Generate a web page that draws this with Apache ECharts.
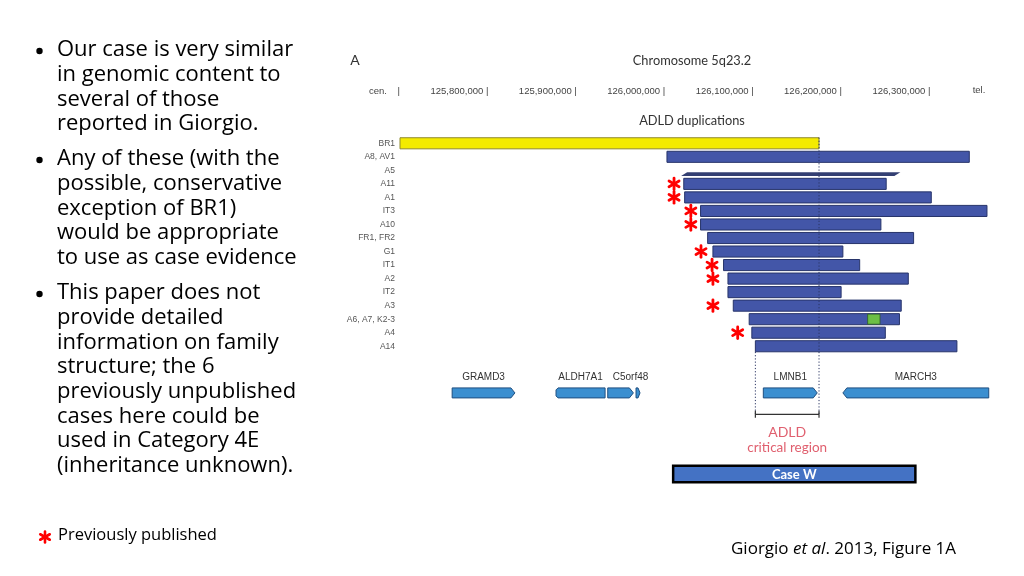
<!DOCTYPE html>
<html><head><meta charset="utf-8">
<script src="https://cdn.jsdelivr.net/npm/echarts@6/dist/echarts.min.js"></script>
<style>html,body{margin:0;padding:0;background:#fff}#c{width:1024px;height:576px}</style>
</head><body><div id="c"></div>
<script>
// ---- data ----
const rowNames = ['BR1','A8, AV1','A5','A11','A1','IT3','A10','FR1, FR2','G1','IT1','A2','IT2','A3','A6, A7, K2-3','A4','A14'];
const dupStart = [125700000,126002000,126018000,126021000,126022000,126040000,126040000,126048000,126054000,126066000,126071000,126071000,126077000,126095000,126098000,126102000];
const dupEnd   = [126174000,126344000,126266000,126250000,126301000,126364000,126244000,126281000,126201000,126220000,126275000,126199000,126267000,126265000,126249000,126330000];
const publishedRows = [3,4,5,6,8,9,10,12,14];
const asteriskPos = [126010000,126010000,126029000,126029000,126040500,126053000,126054000,126054000,126082000];
const greenMark = [126229000,126243000,13];
const tickValues = [125700000,125800000,125900000,126000000,126100000,126200000,126300000];
const tickLabels = ['cen.','125,800,000','125,900,000','126,000,000','126,100,000','126,200,000','126,300,000'];
const geneNames  = ['GRAMD3','ALDH7A1','C5orf48','','LMNB1','MARCH3'];
const geneStart  = [125759000,125876500,125935000,125967000,126111000,126201000];
const geneEnd    = [125830000,125932000,125964000,125971500,126172000,126366000];
const geneStrand = ['+','o','+','+','+','-'];
const criticalRegion = [126102000,126174000];
const caseW = [126009000,126283000];

const bullets = [
  ['Our case is very similar','in genomic content to','several of those','reported in Giorgio.'],
  ['Any of these (with the','possible, conservative','exception of BR1)','would be appropriate','to use as case evidence'],
  ['This paper does not','provide detailed','information on family','structure; the 6','previously unpublished','cases here could be','used in Category 4E','(inheritance unknown).']
];

// ---- layout ----
const SANS = '"Open Sans", Lato, sans-serif';
const FIG = 'Lato, sans-serif';
const NARROW = '"Liberation Sans", Arial, sans-serif';
const GENE_ROW = 18.45, BRACKET_ROW = 20.03, CASEW_ROW = 24.44;

function asteriskShape(cx, cy, r, lw) {
  const kids = [];
  for (let k = 0; k < 3; k++) {
    const a = Math.PI / 2 + k * Math.PI / 3;
    kids.push({type:'line', shape:{x1:cx - r*Math.cos(a), y1:cy - r*Math.sin(a), x2:cx + r*Math.cos(a), y2:cy + r*Math.sin(a)},
      style:{stroke:'#ff0000', lineWidth:lw, lineCap:'round'}});
  }
  return kids;
}

const dupData = rowNames.map((n,i)=>[dupStart[i], dupEnd[i], i]);
const astData = publishedRows.map((r,i)=>[asteriskPos[i], r]);
const geneData = geneNames.map((n,i)=>[geneStart[i], geneEnd[i], i]);

const graphics = [];
const lineStep = 24.65;
const starts = [50, 159, 293];
bullets.forEach((b, bi) => {
  graphics.push({type:'circle', shape:{cx:39.5, cy:starts[bi]+1, r:3.2}, style:{fill:'#000'}});
  b.forEach((t, li) => {
    graphics.push({type:'text', x:57, y:starts[bi] + li*lineStep, style:{text:t, font:'22px '+SANS, fill:'#000', verticalAlign:'middle'}});
  });
});
graphics.push({type:'group', children: asteriskShape(45, 537, 5.5, 2.6)});
graphics.push({type:'text', x:58, y:535, style:{text:'Previously published', font:'16.5px '+SANS, fill:'#000', verticalAlign:'middle'}});
graphics.push({type:'text', x:731, y:549, style:{
  text:'{a|Giorgio }{b|et al}{a|. 2013, Figure 1A}', verticalAlign:'middle',
  rich:{a:{font:'17px '+SANS, fill:'#000'}, b:{font:'italic 17px '+SANS, fill:'#000'}}}});
graphics.push({type:'text', x:355, y:60, style:{text:'A', font:'14px '+FIG, fill:'#333', align:'center', verticalAlign:'middle'}});
graphics.push({type:'text', x:692, y:61, style:{text:'Chromosome 5q23.2', font:'12.8px '+FIG, fill:'#333', align:'center', verticalAlign:'middle'}});
graphics.push({type:'text', x:692, y:121, style:{text:'ADLD duplications', font:'12.8px '+FIG, fill:'#333', align:'center', verticalAlign:'middle'}});
graphics.push({type:'text', x:979, y:90, style:{text:'tel.', font:'9.5px '+NARROW, fill:'#444', align:'center', verticalAlign:'middle'}});

const option = {
  animation:false,
  backgroundColor:'#fff',
  grid:{left:400, right:5.2, top:136.53, bottom:87.7},
  xAxis:{type:'value', position:'top', min:125700000, max:126400000, offset:40.5,
    axisLine:{show:false}, splitLine:{show:false}, axisTick:{show:false},
    axisLabel:{customValues:tickValues, margin:5, align:'right', verticalAlign:'middle',
      fontFamily:NARROW, fontSize:9.5, color:'#444',
      formatter:v=>{const i = tickValues.indexOf(v); return i===0 ? tickLabels[0]+'    |' : tickLabels[i]+' |';}}},
  yAxis:{type:'value', inverse:true, min:-0.5, max:25.5,
    axisLine:{show:false}, axisTick:{show:false}, splitLine:{show:false},
    axisLabel:{customValues:rowNames.map((n,i)=>i), margin:5, fontFamily:NARROW, fontSize:8.5, color:'#555',
      formatter:v=>rowNames[v]||''}},
  graphic:graphics,
  series:[
    {type:'custom', name:'duplications', data:dupData, z:2,
     renderItem:(p, api)=>{
       const s=api.value(0), e=api.value(1), r=api.value(2);
       const a=api.coord([s,r]), b=api.coord([e,r]);
       if (r===2) {
         const t=a[1]+1.8, bt=a[1]+5.6, sk=6;
         return {type:'polygon', shape:{points:[[a[0]+sk,t],[b[0],t],[b[0]-sk,bt],[a[0],bt]]}, style:{fill:'#333f72'}};
       }
       const h=api.size([0,0.82])[1];
       const yellow = r===0;
       return {type:'rect', shape:{x:a[0], y:a[1]-h/2, width:b[0]-a[0], height:h},
         style:{fill: yellow?'#f4eb00':'#4356a8', stroke: yellow?'#8f8a2e':'#27346a', lineWidth:1}};
     }},
    {type:'custom', name:'green', data:[greenMark], z:3,
     renderItem:(p, api)=>{
       const a=api.coord([api.value(0),api.value(2)]), b=api.coord([api.value(1),api.value(2)]);
       const h=api.size([0,0.82])[1];
       return {type:'rect', shape:{x:a[0], y:a[1]-h/2+0.5, width:b[0]-a[0], height:h-1}, style:{fill:'#6cbf45', stroke:'#2e5a2a', lineWidth:0.8}};
     }},
    {type:'custom', name:'Previously published', data:astData, z:4,
     renderItem:(p, api)=>{
       const c=api.coord([api.value(0), api.value(1)]);
       return {type:'group', children:asteriskShape(c[0], c[1], 5.8, 2.8)};
     }},
    {type:'custom', name:'genes', data:geneData, z:2,
     renderItem:(p, api)=>{
       const i=api.value(2);
       const a=api.coord([api.value(0),GENE_ROW]), b=api.coord([api.value(1),GENE_ROW]);
       const h=10, y0=a[1]-h/2, y1=a[1]+h/2, tip=Math.min(4, (b[0]-a[0])/2);
       let pts;
       if (geneStrand[i]==='+') pts=[[a[0],y0],[b[0]-tip,y0],[b[0],a[1]],[b[0]-tip,y1],[a[0],y1]];
       else if (geneStrand[i]==='-') pts=[[a[0],a[1]],[a[0]+tip,y0],[b[0],y0],[b[0],y1],[a[0]+tip,y1]];
       else pts=[[a[0]+2,y0],[b[0],y0],[b[0],y1],[a[0]+2,y1],[a[0],y1-2],[a[0],y0+2]];
       const kids=[{type:'polygon', shape:{points:pts}, style:{fill:'#3b8fd0', stroke:'#1f4f80', lineWidth:1}}];
       if (geneNames[i]) kids.push({type:'text', x:(a[0]+b[0])/2 + (geneNames[i]==='C5orf48'?10:0), y:a[1]-16,
         style:{text:geneNames[i], font:'10px '+NARROW, fill:'#333', align:'center', verticalAlign:'middle'}});
       return {type:'group', children:kids};
     }},
    {type:'custom', name:'critical', data:[criticalRegion], z:5,
     renderItem:(p, api)=>{
       const s=api.value(0), e=api.value(1);
       const top=api.coord([e,-0.5]), rb=api.coord([e,BRACKET_ROW]);
       const l1=api.coord([s,15.42]), lb=api.coord([s,BRACKET_ROW]);
       const dash={stroke:'#2b3563', lineWidth:1, lineDash:[1.2,2]};
       const solid={stroke:'#333', lineWidth:1.2};
       const ca=api.coord([(s+e)/2, 21.36]), cb=api.coord([(s+e)/2, 22.46]);
       return {type:'group', children:[
         {type:'line', shape:{x1:top[0], y1:top[1]+1, x2:rb[0], y2:rb[1]}, style:dash},
         {type:'line', shape:{x1:l1[0], y1:l1[1], x2:lb[0], y2:lb[1]}, style:dash},
         {type:'line', shape:{x1:lb[0], y1:lb[1], x2:rb[0], y2:rb[1]}, style:solid},
         {type:'line', shape:{x1:lb[0], y1:lb[1]-3.5, x2:lb[0], y2:lb[1]+3.5}, style:solid},
         {type:'line', shape:{x1:rb[0], y1:rb[1]-3.5, x2:rb[0], y2:rb[1]+3.5}, style:solid},
         {type:'text', x:ca[0], y:ca[1], style:{text:'ADLD', font:'14px '+FIG, fill:'#e0606f', align:'center', verticalAlign:'middle'}},
         {type:'text', x:cb[0], y:cb[1], style:{text:'critical region', font:'13.5px '+FIG, fill:'#e0606f', align:'center', verticalAlign:'middle'}}
       ]};
     }},
    {type:'custom', name:'Case W', data:[caseW], z:5,
     renderItem:(p, api)=>{
       const a=api.coord([api.value(0),CASEW_ROW]), b=api.coord([api.value(1),CASEW_ROW]);
       const h=16.5;
       return {type:'group', children:[
         {type:'rect', shape:{x:a[0], y:a[1]-h/2, width:b[0]-a[0], height:h}, style:{fill:'#4472c4', stroke:'#000', lineWidth:2.5}},
         {type:'text', x:(a[0]+b[0])/2, y:a[1]+0.5, style:{text:'Case W', font:'bold 13px '+FIG, fill:'#fff', align:'center', verticalAlign:'middle'}}
       ]};
     }}
  ]
};
const chart = echarts.init(document.getElementById('c'), null, {renderer:'canvas'});
chart.setOption(option);
</script></body></html>
